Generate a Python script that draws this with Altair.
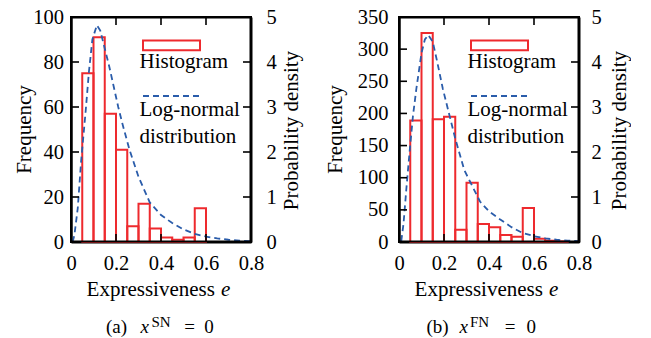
import altair as alt
import pandas as pd

FONT = "Liberation Serif"
RED = "#ee2a2e"
BLUE = "#2a5caa"
BLACK = "#000000"

# ---- data ----
edges_sn_start = [0.05, 0.10, 0.15, 0.20, 0.25, 0.30, 0.35, 0.40, 0.45, 0.50, 0.55]
edges_sn_end = [0.10, 0.15, 0.20, 0.25, 0.30, 0.35, 0.40, 0.45, 0.50, 0.55, 0.60]
freq_sn = [75, 91, 57, 41, 7, 17, 6, 2, 1, 2, 15]

edges_fn_start = [0.05, 0.10, 0.15, 0.20, 0.25, 0.30, 0.35, 0.40, 0.45, 0.50, 0.55, 0.60, 0.65, 0.70]
edges_fn_end = [0.10, 0.15, 0.20, 0.25, 0.30, 0.35, 0.40, 0.45, 0.50, 0.55, 0.60, 0.65, 0.70, 0.75]
freq_fn = [189, 325, 191, 195, 19, 92, 28, 23, 11, 8, 53, 5, 2, 1]

curve_sn_x = [0.007, 0.015, 0.03, 0.045, 0.065, 0.08, 0.095, 0.115, 0.13, 0.15, 0.17, 0.19,
              0.21, 0.23, 0.26, 0.30, 0.35, 0.40, 0.45, 0.50, 0.55, 0.60, 0.65, 0.70, 0.75, 0.80]
curve_sn_d = [0.0, 0.15, 0.75, 1.8, 2.9, 3.8, 4.5, 4.82, 4.7, 4.3, 3.9, 3.45,
              3.0, 2.6, 2.05, 1.45, 0.88, 0.6, 0.42, 0.28, 0.18, 0.12, 0.08, 0.05, 0.03, 0.02]

curve_fn_x = [0.01, 0.02, 0.033, 0.047, 0.062, 0.077, 0.10, 0.115, 0.13, 0.15, 0.17, 0.195,
              0.225, 0.25, 0.29, 0.32, 0.36, 0.40, 0.45, 0.50, 0.55, 0.60, 0.65, 0.70, 0.75, 0.80]
curve_fn_d = [0.02, 0.4, 1.2, 2.0, 2.8, 3.4, 4.2, 4.5, 4.6, 4.45, 4.0, 3.4,
              2.8, 2.3, 1.6, 1.3, 0.9, 0.68, 0.5, 0.33, 0.2, 0.13, 0.08, 0.05, 0.03, 0.02]

x_ticks = [0, 0.2, 0.4, 0.6, 0.8]
inner_x_ticks = [0.2, 0.4, 0.6]
dens_ticks = [0, 1, 2, 3, 4, 5]
freq_ticks_sn = [0, 20, 40, 60, 80, 100]
freq_ticks_fn = [0, 50, 100, 150, 200, 250, 300, 350]

W, H = 180, 225
TL = 8  # inward tick length
LW = 1.6
FS = 21
LFS = 20.5


def one(text, x, y, size=FS, style="normal", align="left", baseline="alphabetic", angle=0):
    return alt.Chart(pd.DataFrame({"t": [text]})).mark_text(
        font=FONT, fontSize=size, fontStyle=style, align=align, baseline=baseline,
        color=BLACK, angle=angle
    ).encode(x=alt.value(x), y=alt.value(y), text="t:N")


DOM = dict(domain=True, domainColor=BLACK, domainWidth=2, domainOpacity=1)
XAXIS = alt.Axis(values=x_ticks, format="~g", labelPadding=11, labelFontSize=LFS, labelFont=FONT,
                 labelColor=BLACK, labelFlush=False, ticks=False, grid=False, title=None, **DOM)


def panel(starts, ends, freqs, cx, cd, ymax, fticks, letter, sup, cap_pos,
          freq_title_x, lp_left, lp_right):
    xs = alt.Scale(domain=[0, 0.8], nice=False)
    fs = alt.Scale(domain=[0, ymax], nice=False)
    ds = alt.Scale(domain=[0, 5], nice=False)
    lab = dict(labelFontSize=LFS, labelFont=FONT, labelColor=BLACK, labelFlush=False,
               ticks=False, grid=False, title=None, **DOM)

    bars = alt.Chart(pd.DataFrame({"s": starts, "e": ends, "f": freqs})).mark_rect(
        fillOpacity=0, stroke=RED, strokeWidth=2
    ).encode(
        x=alt.X("s:Q", scale=xs, axis=XAXIS),
        x2="e:Q",
        y=alt.Y("f:Q", scale=fs, axis=alt.Axis(orient="left", values=fticks, labelPadding=lp_left, **lab)),
        y2=alt.datum(0),
    )
    line = alt.Chart(pd.DataFrame({"x": cx, "d": cd})).mark_line(
        color=BLUE, strokeDash=[6, 4], strokeWidth=1.8
    ).encode(
        x=alt.X("x:Q", scale=xs, axis=XAXIS),
        y=alt.Y("d:Q", scale=ds, axis=alt.Axis(orient="right", values=dens_ticks, labelPadding=lp_right, **lab)),
    )
    one_row = pd.DataFrame({"a": [0]})
    frame = alt.Chart(one_row).mark_rect(fillOpacity=0, stroke=BLACK, strokeWidth=2).encode(
        x=alt.value(0.5), x2=alt.value(W - 0.5), y=alt.value(0.5), y2=alt.value(H - 0.5))
    xt = pd.DataFrame({"v": inner_x_ticks})
    top_t = alt.Chart(xt).mark_rule(color=BLACK, strokeWidth=LW).encode(
        x=alt.X("v:Q", scale=xs, axis=XAXIS), y=alt.value(0.5), y2=alt.value(TL))
    bot_t = alt.Chart(xt).mark_rule(color=BLACK, strokeWidth=LW).encode(
        x=alt.X("v:Q", scale=xs, axis=XAXIS), y=alt.value(H - TL), y2=alt.value(H - 0.5))
    left_t = alt.Chart(pd.DataFrame({"v": fticks[1:-1]})).mark_rule(color=BLACK, strokeWidth=LW).encode(
        y=alt.Y("v:Q", scale=fs, axis=None), x=alt.value(0.5), x2=alt.value(TL))
    right_t = alt.Chart(pd.DataFrame({"v": dens_ticks[1:-1]})).mark_rule(color=BLACK, strokeWidth=LW).encode(
        y=alt.Y("v:Q", scale=ds, axis=None), x=alt.value(W - TL), x2=alt.value(W - 0.5))
    leg_rect = alt.Chart(one_row).mark_rect(fillOpacity=0, stroke=RED, strokeWidth=2).encode(
        x=alt.value(72), x2=alt.value(129), y=alt.value(23.5), y2=alt.value(33.3))
    leg_line = alt.Chart(one_row).mark_rule(color=BLUE, strokeDash=[6, 4], strokeWidth=1.8).encode(
        x=alt.value(72), x2=alt.value(129), y=alt.value(79))
    texts = [
        one("Histogram", 68.5, 51),
        one("Log-normal", 68.5, 99.3),
        one("distribution", 68.5, 126),
        one("Frequency", freq_title_x, H / 2, align="center", baseline="middle", angle=270),
        one("Probability density", W + 41, H / 2 + 1, align="center", baseline="middle", angle=270),
        one("Expressiveness", 15.6, 279.3),
        one("e", 150, 279.3, style="italic"),
        one(f"({letter})", cap_pos[0], 316.3, size=19),
        one("x", cap_pos[1], 316.3, size=19, style="italic"),
        one(sup, cap_pos[2], 310.3, size=15),
        one("=", cap_pos[3], 316.3, size=19),
        one("0", cap_pos[4], 316.3, size=19),
    ]
    return alt.layer(bars, line, frame, top_t, bot_t, left_t, right_t, leg_rect, leg_line, *texts
                     ).resolve_scale(y="independent").properties(width=W, height=H)


left = panel(edges_sn_start, edges_sn_end, freq_sn, curve_sn_x, curve_sn_d, 100, freq_ticks_sn,
             "a", "SN", [35, 69.5, 80.5, 113.3, 133.3], -46, 7.5, 15)
right = panel(edges_fn_start, edges_fn_end, freq_fn, curve_fn_x, curve_fn_d, 350, freq_ticks_fn,
              "b", "FN", [27.4, 60.5, 71, 105.7, 127.4], -63.5, 11, 12)

chart = alt.hconcat(left, right, spacing=20).properties(
    padding={"left": 5, "top": -2, "right": 0, "bottom": 0}
).configure_view(stroke=BLACK, strokeWidth=2)

chart.save("out.html", embed_options={"renderer": "svg", "actions": False})
